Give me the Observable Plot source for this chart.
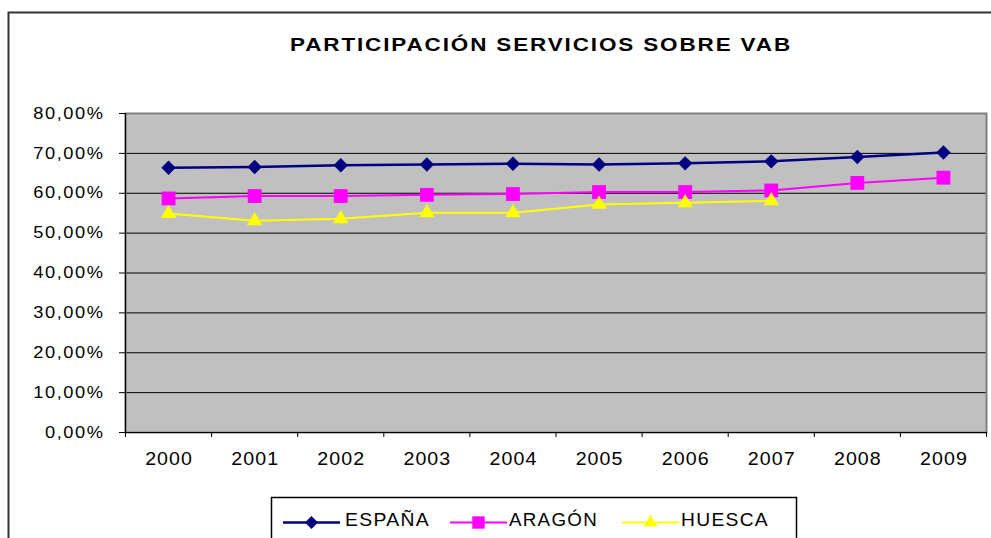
<!DOCTYPE html>
<html>
<head>
<meta charset="utf-8">
<script src="https://cdn.jsdelivr.net/npm/d3@7"></script>
<script src="https://cdn.jsdelivr.net/npm/@observablehq/plot@0.6"></script>
<style>
  html, body { margin: 0; padding: 0; background: white; }
  #chart { width: 991px; height: 538px; overflow: hidden; }
</style>
</head>
<body>
<div id="chart"></div>
<script>
// ---- data ----
const title = "PARTICIPACIÓN SERVICIOS SOBRE VAB";
const years = ["2000", "2001", "2002", "2003", "2004", "2005", "2006", "2007", "2008", "2009"];
const seriesNames = ["ESPAÑA", "ARAGÓN", "HUESCA"];
const espana = [66.4, 66.6, 67.0, 67.2, 67.4, 67.2, 67.5, 68.0, 69.1, 70.2];
const aragon = [58.7, 59.3, 59.3, 59.6, 59.8, 60.3, 60.3, 60.7, 62.6, 63.9];
const huesca = [54.9, 53.1, 53.6, 55.1, 55.1, 57.2, 57.6, 58.1, null, null];
const yTicks = [0, 10, 20, 30, 40, 50, 60, 70, 80];

const seriesValues = [espana, aragon, huesca];
const colors = ["#000080", "#FF00FF", "#FFFF00"];
const symbols = ["diamond2", "square", "triangle"];
const radii = [6.5, 7.8, 5.7];
const widths = [2.5, 2, 2];

const rows = seriesNames.map((name, s) =>
  years.map((year, i) => ({series: name, year, i, value: seriesValues[s][i]}))
);

const font = "'Liberation Sans', Arial, sans-serif";
const yFormat = d => d.toFixed(2).replace(".", ",") + "%";

const marks = [
  Plot.frame({fill: "#C0C0C0"}),
  Plot.ruleY(yTicks.filter(d => d > 0 && d < 80), {stroke: "black", strokeWidth: 1}),
  Plot.frame({stroke: "#808080", strokeWidth: 2}),
  Plot.ruleX([0], {stroke: "black", strokeWidth: 1.2}),
  Plot.ruleY([0], {stroke: "black", strokeWidth: 1.2}),
  Plot.axisY({
    ticks: yTicks, tickSize: 6, tickPadding: 15, label: null,
    tickFormat: yFormat, fontSize: 16, stroke: "black"
  }),
  Plot.axisX({
    ticks: d3.range(0, years.length + 1), tickSize: 5, label: null,
    tickFormat: () => "", stroke: "black"
  }),
  Plot.text(years, {
    x: (d, i) => i + 0.5, text: d => d, frameAnchor: "bottom", dy: 32,
    fontSize: 18, fill: "black"
  })
];
rows.forEach((data, s) => {
  marks.push(Plot.line(data.filter(d => d.value != null), {
    x: d => d.i + 0.5, y: "value", stroke: colors[s], strokeWidth: widths[s]
  }));
});
rows.forEach((data, s) => {
  marks.push(Plot.dot(data.filter(d => d.value != null), {
    x: d => d.i + 0.5, y: "value", symbol: () => symbols[s], fill: colors[s], r: radii[s]
  }));
});

const svg = Plot.plot({
  width: 991,
  height: 538,
  marginLeft: 125,
  marginRight: 5,
  marginTop: 113,
  marginBottom: 106,
  x: {type: "linear", domain: [0, years.length], axis: null},
  y: {domain: [0, 80], axis: null},
  symbol: {type: "identity"},
  style: {fontFamily: font, fontSize: "16px", background: "white", color: "black"},
  marks
});
document.getElementById("chart").appendChild(svg);

const root = d3.select(svg);

// widen text like the original rendering (part glyph stretch, part spacing)
function stretch(sel, factor) {
  sel.each(function () {
    const w = this.getComputedTextLength();
    d3.select(this).attr("textLength", w * factor).attr("lengthAdjust", "spacingAndGlyphs");
  });
}
const yLabels = new Set(yTicks.map(yFormat));
const ySel = root.selectAll("text").filter(function () { return yLabels.has(this.textContent); })
  .attr("font-size", 16.3).attr("letter-spacing", 1.4);
stretch(ySel, 1.12);
const xSel = root.selectAll("text").filter(function () { return years.includes(this.textContent); })
  .attr("font-size", 18.5).attr("letter-spacing", 1).attr("dx", 0.5);
stretch(xSel, 1.06);

// outer chart-area border
root.append("path")
  .attr("d", "M8.5,538 V12.5 H991")
  .attr("fill", "none").attr("stroke", "#333").attr("stroke-width", 2);

// title
root.append("text")
  .attr("x", 541).attr("y", 50.7)
  .attr("text-anchor", "middle")
  .attr("font-family", font).attr("font-weight", "bold").attr("font-size", 18)
  .attr("letter-spacing", 1.5)
  .attr("textLength", 502).attr("lengthAdjust", "spacingAndGlyphs")
  .attr("fill", "black")
  .text(title);

// legend
const leg = root.append("g").attr("aria-label", "legend");
leg.append("rect")
  .attr("x", 271.5).attr("y", 497.5).attr("width", 525).attr("height", 60)
  .attr("fill", "white").attr("stroke", "black").attr("stroke-width", 1.5);
const legX = [283, 450, 622];
const legTextX = [345, 509, 681];
const legTextW = [85, 89, 88];
const legY = 522.5;
const d3sym = {diamond2: d3.symbolDiamond2, square: d3.symbolSquare, triangle: d3.symbolTriangle};
seriesNames.forEach((name, s) => {
  leg.append("line")
    .attr("x1", legX[s]).attr("x2", legX[s] + 57)
    .attr("y1", legY).attr("y2", legY)
    .attr("stroke", colors[s]).attr("stroke-width", widths[s]);
  leg.append("path")
    .attr("transform", `translate(${legX[s] + 28.5},${legY})`)
    .attr("d", d3.symbol(d3sym[symbols[s]], Math.PI * radii[s] * radii[s] * 0.8)())
    .attr("fill", colors[s]);
  leg.append("text")
    .attr("x", legTextX[s]).attr("y", 526)
    .attr("text-anchor", "start")
    .attr("font-family", font).attr("font-size", 17.5)
    .attr("letter-spacing", 1.2)
    .attr("textLength", legTextW[s]).attr("lengthAdjust", "spacingAndGlyphs")
    .attr("fill", "black")
    .text(name);
});
</script>
</body>
</html>
